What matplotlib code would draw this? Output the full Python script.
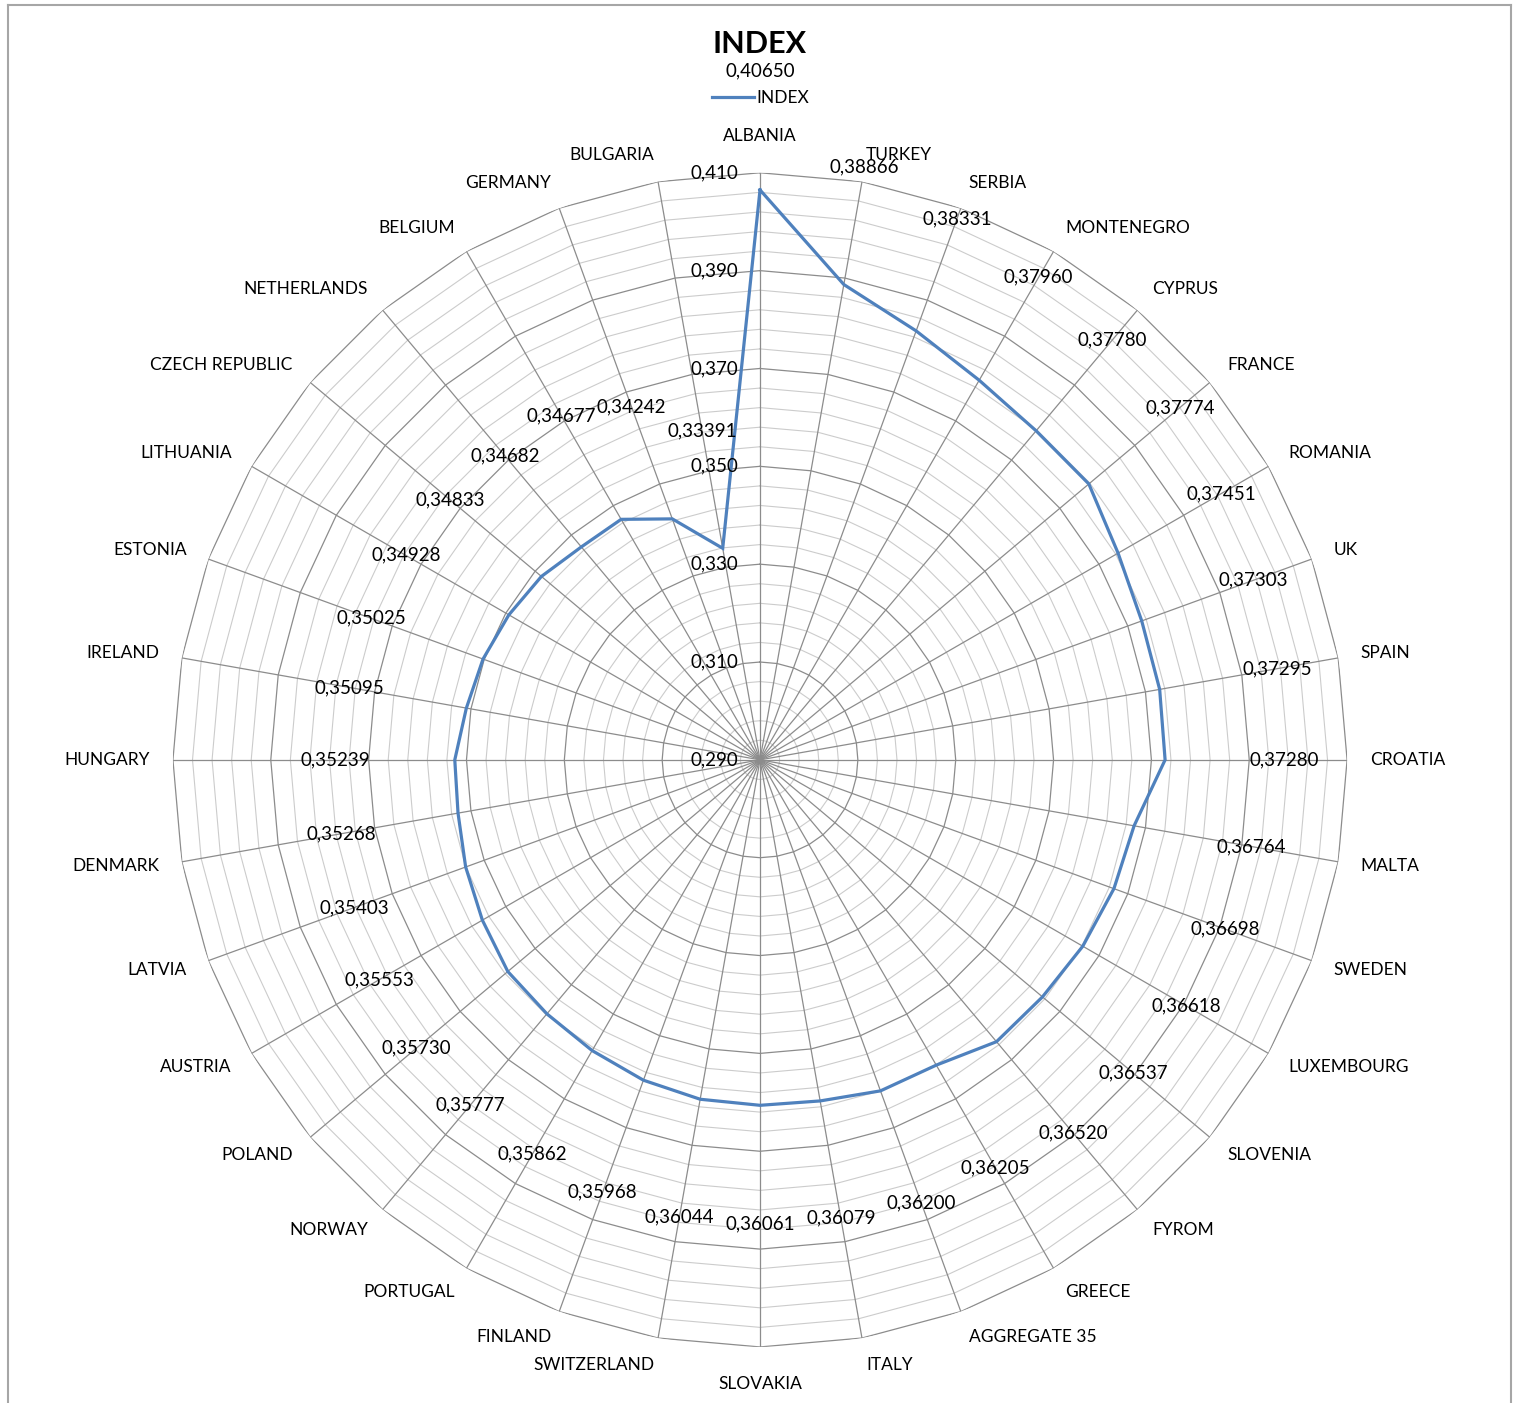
import numpy as np
import matplotlib
matplotlib.use("Agg")
import matplotlib.pyplot as plt
from matplotlib.lines import Line2D

plt.rcParams['font.family'] = ['Lato', 'DejaVu Sans']

countries = ["ALBANIA", "TURKEY", "SERBIA", "MONTENEGRO", "CYPRUS", "FRANCE", "ROMANIA", "UK",
             "SPAIN", "CROATIA", "MALTA", "SWEDEN", "LUXEMBOURG", "SLOVENIA", "FYROM", "GREECE",
             "AGGREGATE 35", "ITALY", "SLOVAKIA", "SWITZERLAND", "FINLAND", "PORTUGAL", "NORWAY",
             "POLAND", "AUSTRIA", "LATVIA", "DENMARK", "HUNGARY", "IRELAND", "ESTONIA", "LITHUANIA",
             "CZECH REPUBLIC", "NETHERLANDS", "BELGIUM", "GERMANY", "BULGARIA"]
index_values = [0.40650, 0.38866, 0.38331, 0.37960, 0.37780, 0.37774, 0.37451, 0.37303,
                0.37295, 0.37280, 0.36764, 0.36698, 0.36618, 0.36537, 0.36520, 0.36205,
                0.36200, 0.36079, 0.36061, 0.36044, 0.35968, 0.35862, 0.35777,
                0.35730, 0.35553, 0.35403, 0.35268, 0.35239, 0.35095, 0.35025, 0.34928,
                0.34833, 0.34682, 0.34677, 0.34242, 0.33391]
major_ticks = [0.290, 0.310, 0.330, 0.350, 0.370, 0.390, 0.410]
minor_step = 0.004
r_min, r_max = 0.290, 0.410

W, H = 1517, 1403
fig = plt.figure(figsize=(W / 100, H / 100), dpi=100)
ax = fig.add_axes([0.114, 0.0399, 0.774, 0.837], projection='polar')
ax.set_theta_zero_location('N')
ax.set_theta_direction(-1)
ax.set_ylim(r_min, r_max)
ax.grid(False)
ax.set_xticks([])
ax.set_yticks([])
ax.spines['polar'].set_visible(False)

n = len(countries)
theta = np.arange(n) * 2 * np.pi / n
theta_closed = np.append(theta, theta[0])

# rings
n_minor = int(round((r_max - r_min) / minor_step))
for k in range(n_minor + 1):
    r = r_min + k * minor_step
    major = any(abs(r - m) < 1e-9 for m in major_ticks)
    ax.plot(theta_closed, np.full(n + 1, r), color='#8c8c8c' if major else '#cccccc',
            lw=0.9 if major else 0.8, zorder=1 if major else 0.5)

# spokes
for t in theta:
    ax.plot([t, t], [r_min, r_max], color='#8c8c8c', lw=0.9, zorder=1.2)

# data line
vals_closed = np.append(index_values, index_values[0])
line, = ax.plot(theta_closed, vals_closed, color='#4F81BD', lw=2.3, zorder=3,
                solid_joinstyle='miter', label='INDEX')

fs_num = 13.5
fs_cat = 12.5
# radial tick labels
for m in major_ticks:
    ax.annotate(f"{m:.3f}".replace('.', ','), xy=(0, m), xytext=(-22, 0),
                textcoords='offset pixels', ha='right', va='center', fontsize=fs_num,
                color='black', zorder=4)

# data labels
for t, v in zip(theta, index_values):
    ax.annotate(f"{v:.5f}".replace('.', ','), xy=(t, v),
                xytext=(119 * np.sin(t), 119 * np.cos(t)), textcoords='offset pixels',
                ha='center', va='center', fontsize=fs_num, color='black', zorder=5,
                annotation_clip=False)

# category labels
for t, name in zip(theta, countries):
    s, c = np.sin(t), np.cos(t)
    if abs(s) < 0.05:
        ha = 'center'
        dx, dy = 0, 37 * np.sign(c)
    else:
        ha = 'left' if s > 0 else 'right'
        dx, dy = 23 * s, 27 * c
    ax.annotate(name, xy=(t, r_max), xytext=(dx, dy), textcoords='offset pixels',
                ha=ha, va='center', fontsize=fs_cat, color='black', annotation_clip=False)

# title and legend
fig.text(760 / W, 1 - 44 / H, "INDEX", ha='center', va='center', fontsize=22,
         fontweight='bold', color='black')
fig.legend(handles=[line], labels=['INDEX'], loc='center',
           bbox_to_anchor=(761 / W, 1 - 98 / H), frameon=False, fontsize=fs_cat,
           handlelength=2.4, handletextpad=0.15, borderpad=0)

# outer border
bc = '#a6a6a6'
fig.add_artist(Line2D([8 / W, 8 / W], [0, 1 - 5 / H], transform=fig.transFigure, color=bc, lw=1.5))
fig.add_artist(Line2D([8 / W, 1511 / W], [1 - 5 / H, 1 - 5 / H], transform=fig.transFigure, color=bc, lw=1.5))
fig.add_artist(Line2D([1511 / W, 1511 / W], [0, 1 - 5 / H], transform=fig.transFigure, color=bc, lw=1.5))

fig.savefig("out.png", dpi=100)
